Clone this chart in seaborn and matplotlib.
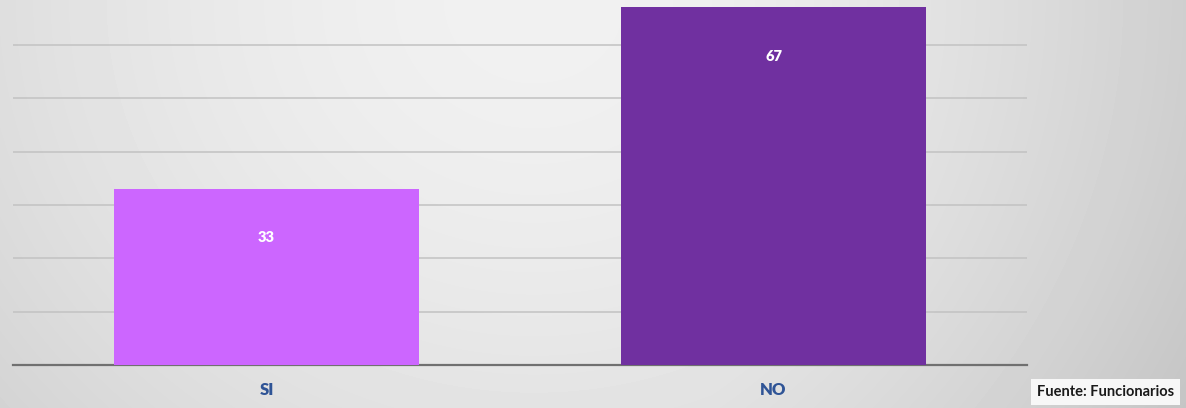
import numpy as np
import pandas as pd
import matplotlib
matplotlib.use("Agg")
import matplotlib.pyplot as plt
import seaborn as sns

categories = ["SI", "NO"]
values = [33, 67]
bar_colors = ["#CC66FF", "#7030A0"]
source_text = "Fuente: Funcionarios"

sns.set_theme(style="white")
plt.rcParams["font.family"] = ["Lato", "DejaVu Sans"]

W, H, DPI = 1186, 408, 100
fig = plt.figure(figsize=(W / DPI, H / DPI), dpi=DPI)

# soft radial gray backdrop, slightly darker toward the right edge
bg_ax = fig.add_axes([0, 0, 1, 1], zorder=0)
yy, xx = np.mgrid[0:H, 0:W]
r = np.sqrt(((xx - 0.45 * W) / (0.6 * W)) ** 2 + ((yy - 0.0 * H) / (1.6 * H)) ** 2)
shade = 0.945 - 0.12 * r ** 1.7 - 0.03 * np.clip((xx / W - 0.6) / 0.4, 0, 1)
shade = np.clip(shade, 0.76, 1.0)
bg_ax.imshow(shade, cmap="gray", vmin=0, vmax=1, aspect="auto", interpolation="bilinear")
bg_ax.set_axis_off()

ax = fig.add_axes([13 / W, 43 / H, 1014 / W, 365 / H], zorder=1)
ax.patch.set_alpha(0)

df = pd.DataFrame({"categoria": categories, "valor": values})
sns.barplot(data=df, x="categoria", y="valor", hue="categoria", palette=bar_colors,
            legend=False, width=0.6, saturation=1, linewidth=0, ax=ax, zorder=3)

ax.set_xlim(-0.5, 1.5)
ax.set_ylim(0, 68.4)
ax.set_yticks([10, 20, 30, 40, 50, 60])
ax.yaxis.grid(True, color="#C2C2C2", linewidth=1.1, zorder=0)
ax.set_axisbelow(True)
for s in ["top", "right", "left"]:
    ax.spines[s].set_visible(False)
ax.spines["bottom"].set_color("#707070")
ax.spines["bottom"].set_linewidth(1.6)
ax.tick_params(axis="y", left=False, labelleft=False)
ax.tick_params(axis="x", bottom=False, pad=6)
ax.set_xlabel("")
ax.set_ylabel("")
for lbl in ax.get_xticklabels():
    lbl.set_fontsize(12)
    lbl.set_fontweight("heavy")
    lbl.set_color("#2F5496")

for i, v in enumerate(values):
    ax.annotate(str(v), xy=(i, v), xytext=(0, -35), textcoords="offset points",
                ha="center", va="center", color="white", fontsize=10.5, fontweight="heavy")

fig.text(1037 / W, 16 / H, source_text, ha="left", va="center", fontsize=10.5,
         fontweight="bold", color="#1A1A1A", zorder=5,
         bbox=dict(boxstyle="square,pad=0.4", facecolor="#F7F7F7", edgecolor="none"))

fig.savefig("out.png", dpi=DPI)
